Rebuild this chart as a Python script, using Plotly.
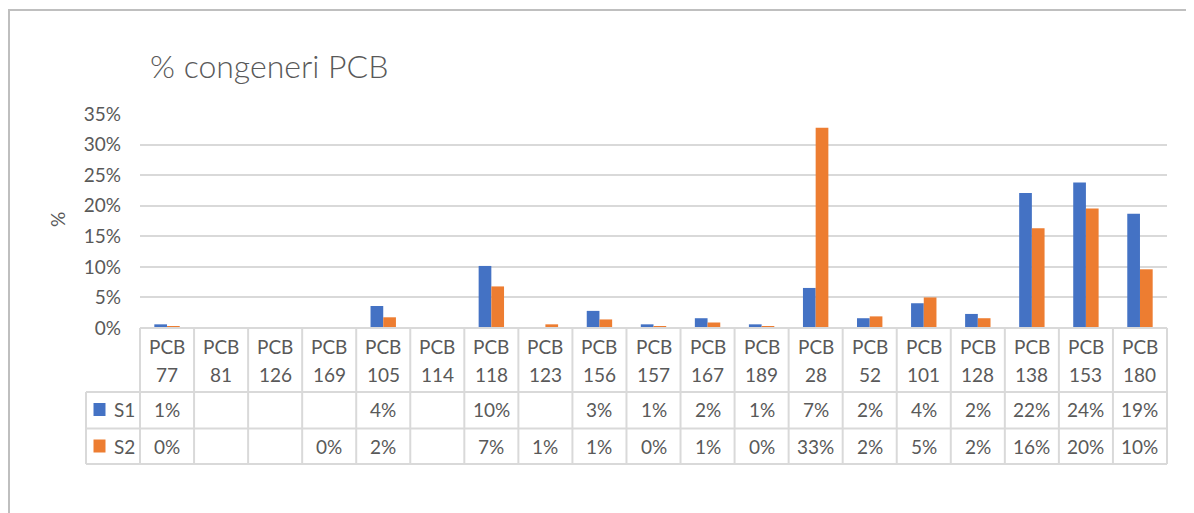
import plotly.graph_objects as go

CONGENERS = ["77", "81", "126", "169", "105", "114", "118", "123", "156", "157",
             "167", "189", "28", "52", "101", "128", "138", "153", "180"]
S1 = [0.006, None, None, None, 0.036, None, 0.1015, None, 0.028, 0.006,
      0.016, 0.006, 0.0655, 0.016, 0.0405, 0.023, 0.2206, 0.238, 0.1867]
S2 = [0.003, None, None, 0.0, 0.0175, None, 0.068, 0.006, 0.014, 0.0025,
      0.009, 0.003, 0.3275, 0.019, 0.050, 0.016, 0.163, 0.1955, 0.096]
SERIES = {"S1": S1, "S2": S2}
COLORS = {"S1": "#4472C4", "S2": "#ED7D31"}

TEXT = "#595959"
GRID = "#D9D9D9"
FONT = "Lato, 'Open Sans', sans-serif"

# page body adds an 8px margin, so the figure is shifted by OFF on screen
OFF = 8
W, H = 1186, 505
ML, MR, MT, MB = 132, 27, 106, 185
PW, PH = W - ML - MR, H - MT - MB


def px(x):
    # screen x -> paper x
    return (x - OFF - ML) / PW


def py(y):
    # screen y -> paper y
    return (H - MB - (y - OFF)) / PH


def pct(v):
    return "" if v is None else f"{round(v * 100)}%"


cats = [f"PCB {c}" for c in CONGENERS]

fig = go.Figure()
for name, vals in SERIES.items():
    fig.add_trace(go.Bar(name=name, x=cats, y=vals, marker_color=COLORS[name],
                         marker_line_width=0))

ann = []
shapes = []

# header row: category labels
for cat, num in zip(cats, CONGENERS):
    ann.append(dict(x=cat, xref="x", y=py(346), yref="paper", text="PCB",
                    showarrow=False, yanchor="middle", font=dict(size=19, color=TEXT)))
    ann.append(dict(x=cat, xref="x", y=py(374), yref="paper", text=num,
                    showarrow=False, yanchor="middle", font=dict(size=19, color=TEXT)))

# value rows
row_y = {"S1": 409.5, "S2": 446}
for name, vals in SERIES.items():
    for cat, v in zip(cats, vals):
        ann.append(dict(x=cat, xref="x", y=py(row_y[name]), yref="paper", text=pct(v),
                        showarrow=False, yanchor="middle", font=dict(size=19, color=TEXT)))
    ann.append(dict(x=px(112), xref="paper", y=py(row_y[name]), yref="paper", text=name,
                    showarrow=False, xanchor="left", yanchor="middle",
                    font=dict(size=19, color=TEXT)))
    shapes.append(dict(type="rect", xref="paper", yref="paper",
                       x0=px(93.5), x1=px(105.5),
                       y0=py(row_y[name] - 6.5), y1=py(row_y[name] + 6.5),
                       fillcolor=COLORS[name], line_width=0))

# table grid
n = len(cats)
for i in range(n + 1):
    xx = i / n
    shapes.append(dict(type="line", xref="paper", yref="paper", x0=xx, x1=xx,
                       y0=0, y1=py(464), line=dict(color=GRID, width=2)))
shapes.append(dict(type="line", xref="paper", yref="paper", x0=px(86), x1=px(86),
                   y0=py(392), y1=py(464), line=dict(color=GRID, width=2)))
for yy in [392, 428.5, 464]:
    shapes.append(dict(type="line", xref="paper", yref="paper", x0=px(86), x1=1,
                       y0=py(yy), y1=py(yy), line=dict(color=GRID, width=2)))
shapes.append(dict(type="line", xref="paper", yref="paper", x0=0, x1=1,
                   y0=0, y1=0, line=dict(color=GRID, width=2)))

# chart frame
shapes.append(dict(type="line", xref="paper", yref="paper", x0=px(8), x1=px(W + 20),
                   y0=py(10), y1=py(10), line=dict(color="#BFBFBF", width=2)))
shapes.append(dict(type="line", xref="paper", yref="paper", x0=px(9), x1=px(9),
                   y0=py(10), y1=py(H + 20), line=dict(color="#BFBFBF", width=2)))

# y axis title
ann.append(dict(x=px(57), xref="paper", y=py(220), yref="paper", text="%",
                xanchor="center", yanchor="middle",
                textangle=-90, showarrow=False, font=dict(size=19, color=TEXT)))

fig.update_layout(
    width=W, height=H,
    margin=dict(l=ML, r=MR, t=MT, b=MB),
    paper_bgcolor="white", plot_bgcolor="white",
    font=dict(family=FONT, color=TEXT),
    title=dict(text="% congeneri PCB", x=(150 - OFF) / W, xref="container", xanchor="left",
               y=1 - (67 - OFF) / H, yref="container", yanchor="middle",
               font=dict(size=32, color=TEXT, family=FONT, weight=300)),
    showlegend=False,
    barmode="group", bargap=0.53, bargroupgap=0,
    annotations=ann, shapes=shapes,
)
fig.update_xaxes(showticklabels=False, showgrid=False, zeroline=False, showline=False,
                 range=[-0.5, n - 0.5])
fig.update_yaxes(range=[0, 0.35], dtick=0.05, tickformat=".0%", showgrid=True,
                 gridcolor=GRID, gridwidth=1.5, zeroline=False, showline=False,
                 ticklabelstandoff=18, tickfont=dict(size=19, color=TEXT))

fig.write_html("out.html")
